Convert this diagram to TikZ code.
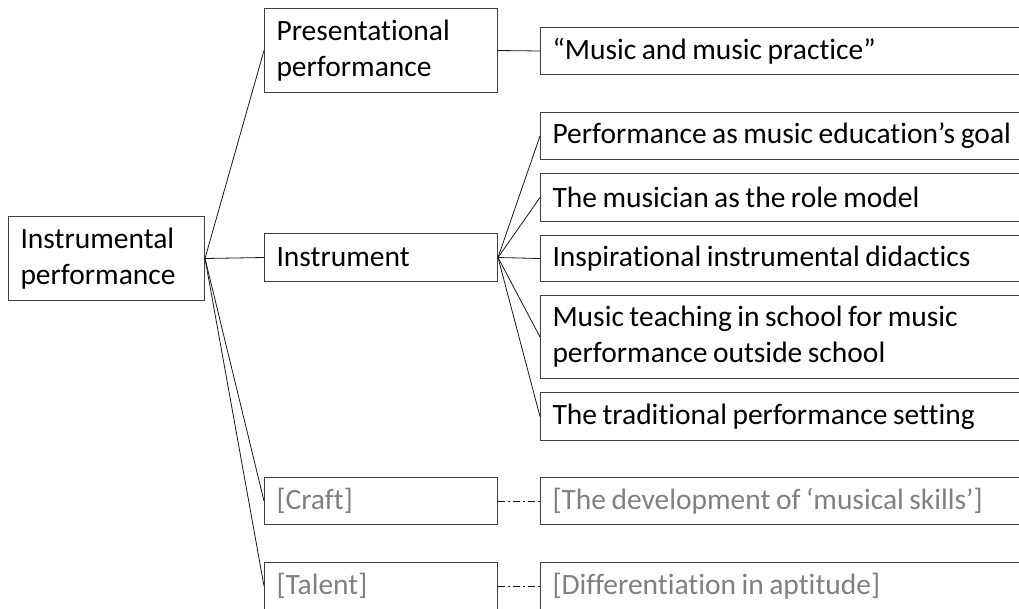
\documentclass[tikz,border=0pt]{standalone}
\usepackage{fontspec}
\setmainfont{Carlito}[RawFeature=-liga]
\newcommand\tightspace{\spaceskip=5.5pt plus 1pt\relax}
\begin{document}
\begin{tikzpicture}[x=1pt,y=-1pt,
    box/.style={draw=black!75,line width=1pt,rectangle,anchor=north west,align=left,
      inner xsep=12pt,inner ysep=0pt,font=\fontsize{29.5}{36}\selectfont,
      execute at begin node=\tightspace},
    rootbox/.style={box,text width=172pt,minimum height=84pt},
    midbox/.style={box,text width=209pt},
    leafbox/.style={box,text width=476pt},
    faded/.style={text=black!50},
    link/.style={line width=0.8pt,black!90},
    dashdot/.style={link,dash pattern=on 7pt off 3pt on 2pt off 3pt}]
      \clip (0,0) rectangle (1019,608);
      \node[rootbox] (root) at (8,216) {Instrumental\\performance};
      \node[midbox,minimum height=84pt] (pres) at (264,8) {Presentational\\performance};
      \node[midbox,minimum height=48pt] (instr) at (264,233) {Instrument};
      \node[midbox,minimum height=47pt,faded] (craft) at (264,477) {[Craft]};
      \node[midbox,minimum height=47pt,faded] (talent) at (264,562) {[Talent]};
      \node[leafbox,minimum height=47pt] (music) at (540,27) {“Music and music practice”};
      \node[leafbox,minimum height=47pt] (goal) at (540,112) {Performance as music education’s goal};
      \node[leafbox,minimum height=48pt] (model) at (540,173) {The musician as the role model};
      \node[leafbox,minimum height=46pt] (didact) at (540,235) {Inspirational instrumental didactics};
      \node[leafbox,minimum height=83pt] (school) at (540,295) {Music teaching in school for music\\performance outside school};
      \node[leafbox,minimum height=48pt] (setting) at (540,392) {The traditional performance setting};
      \node[leafbox,minimum height=47pt,faded] (skills) at (540,477) {[The development of ‘musical skills’]};
      \node[leafbox,minimum height=47pt,faded] (aptitude) at (540,562) {[Differentiation in aptitude]};
      \foreach \n in {pres,instr,craft,talent} {%
        \draw[link] (root.east) -- (\n.west);
      }
      \draw[link] (pres.east) -- (music.west);
      \foreach \n in {goal,model,didact,school,setting} {%
        \draw[link] (instr.east) -- (\n.west);
      }
      \draw[dashdot] (craft.east) -- (skills.west);
      \draw[dashdot] (talent.east) -- (aptitude.west);
    \end{tikzpicture}
\end{document}
